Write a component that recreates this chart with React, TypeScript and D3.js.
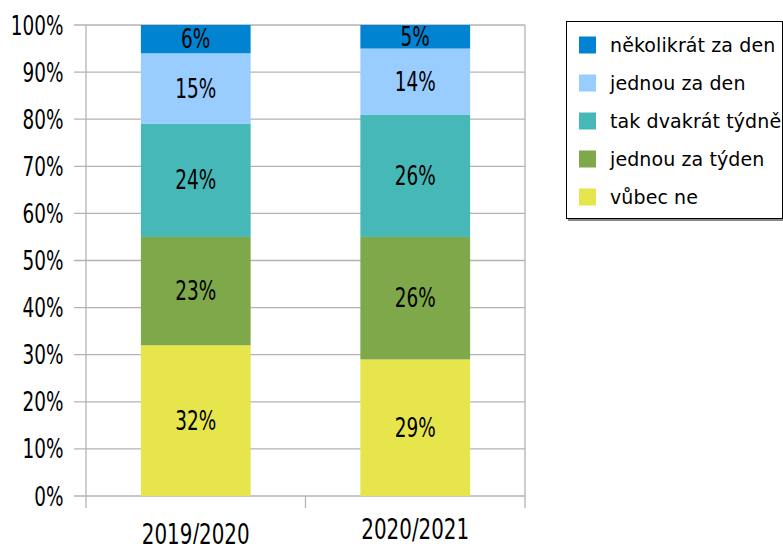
import * as React from 'react'
import { useEffect, useRef } from 'react'
import * as d3 from 'd3'

const years = ['2019/2020', '2020/2021']
// stacked bottom -> top
const series = ['vůbec ne', 'jednou za týden', 'tak dvakrát týdně', 'jednou za den', 'několikrát za den']
const vubecNe = [32, 29]
const jednouTyden = [23, 26]
const dvakratTydne = [24, 26]
const jednouDen = [15, 14]
const nekolikratDen = [6, 5]
const colors = ['#e6e64c', '#7ea84a', '#47b8b8', '#99ccff', '#0084d1']
const yTicks = [0, 10, 20, 30, 40, 50, 60, 70, 80, 90, 100]

const FONT = '"DejaVu Sans", sans-serif'
const SX = 0.71 // narrow look of the original font

const App = () => {
  const ref = useRef<HTMLDivElement | null>(null)

  useEffect(() => {
    const W = 783, H = 544
    const left = 86, right = 525, top = 25, bottom = 496
    const values = [vubecNe, jednouTyden, dvakratTydne, jednouDen, nekolikratDen]
    const rows = years.map((y, i) => {
      const r: any = { year: y }
      series.forEach((s, k) => { r[s] = values[k][i] })
      return r
    })
    const stacked = d3.stack<any>().keys(series)(rows)

    const x = d3.scaleBand().domain(years).range([left, right]).paddingInner(0).paddingOuter(0)
    const y = d3.scaleLinear().domain([0, 100]).range([bottom, top])
    const bw = x.bandwidth() * 0.5

    const svg = d3.select(ref.current).append('svg')
      .attr('width', W).attr('height', H)
      .style('position', 'absolute').style('left', 0).style('top', 0)
      .style('font-family', FONT)

    // gridlines
    svg.append('g').selectAll('line').data(yTicks).enter().append('line')
      .attr('x1', left - 12).attr('x2', right)
      .attr('y1', d => y(d)).attr('y2', d => y(d))
      .attr('stroke', '#b3b3b3').attr('stroke-width', 1.3)

    // y axis line
    svg.append('line').attr('x1', left).attr('x2', left).attr('y1', top).attr('y2', bottom + 12)
      .attr('stroke', '#b3b3b3').attr('stroke-width', 1.3)
    // category separators / right edge
    const bounds = [x(years[1])!, right]
    svg.append('g').selectAll('line').data(bounds).enter().append('line')
      .attr('x1', d => d).attr('x2', d => d)
      .attr('y1', (d, i) => i === 1 ? top : bottom).attr('y2', bottom + 12)
      .attr('stroke', '#b3b3b3').attr('stroke-width', 1.3)

    // y labels
    svg.append('g').selectAll('text').data(yTicks).enter().append('text')
      .attr('transform', d => `translate(63.5,${y(d) + 9.5}) scale(${SX},1)`)
      .attr('text-anchor', 'end').attr('font-size', 26).attr('fill', '#000')
      .text(d => d + '%')

    // bars
    stacked.forEach((layer, k) => {
      const g = svg.append('g')
      g.selectAll('rect').data(layer).enter().append('rect')
        .attr('x', d => x(d.data.year)! + (x.bandwidth() - bw) / 2)
        .attr('width', bw)
        .attr('y', d => y(d[1]))
        .attr('height', d => y(d[0]) - y(d[1]))
        .attr('fill', colors[k])
      g.selectAll('text').data(layer).enter().append('text')
        .attr('transform', d => `translate(${x(d.data.year)! + x.bandwidth() / 2},${(y(d[0]) + y(d[1])) / 2 + 9}) scale(${SX},1)`)
        .attr('text-anchor', 'middle').attr('font-size', 26).attr('fill', '#000')
        .text(d => (d[1] - d[0]) + '%')
    })

    // x labels
    svg.append('g').selectAll('text').data(years).enter().append('text')
      .attr('transform', (d, i) => `translate(${x(d)! + x.bandwidth() / 2},${i === 0 ? 543.5 : 538.5}) scale(${SX},1)`)
      .attr('text-anchor', 'middle').attr('font-size', 28).attr('fill', '#000')
      .text(d => d)

    // legend
    const lg = svg.append('g')
    lg.append('rect').attr('x', 568).attr('y', 23).attr('width', 216).attr('height', 198)
      .attr('fill', '#888')
    lg.append('rect').attr('x', 566.5).attr('y', 21.5).attr('width', 216).attr('height', 197)
      .attr('fill', '#fff').attr('stroke', '#000').attr('stroke-width', 1)
    const legendOrder = series.slice().reverse()
    const legendColors = colors.slice().reverse()
    legendOrder.forEach((s, i) => {
      const cy = 45 + i * 38
      lg.append('rect').attr('x', 579).attr('y', cy - 8.5).attr('width', 17).attr('height', 17)
        .attr('fill', legendColors[i])
      lg.append('text').attr('x', 610).attr('y', cy + 6.5)
        .attr('font-size', 19).attr('letter-spacing', 0.1).attr('fill', '#000').text(s)
    })

    return () => { svg.remove() }
  }, [])

  return <div ref={ref} />
}

export default App
